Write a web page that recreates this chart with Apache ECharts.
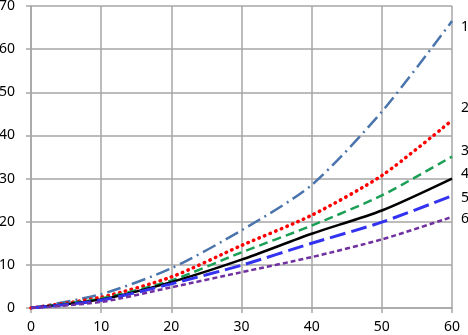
<!DOCTYPE html>
<html>
<head>
<meta charset="utf-8">
<script src="https://cdn.jsdelivr.net/npm/echarts@6/dist/echarts.min.js"></script>
<style>
  html, body { margin: 0; padding: 0; background: #fff; }
  #chart { width: 468px; height: 335px; }
</style>
</head>
<body>
<div id="chart"></div>
<script>
// x positions shared by all curves
const xValues = [0, 10, 20, 30, 40, 50, 60];

// curve values
const curve1 = [0, 3.2, 9.2, 18.0, 28.5, 45.5, 66.5];
const curve2 = [0, 2.5, 7.2, 14.5, 21.5, 30.7, 43.5];
const curve3 = [0, 2.2, 6.4, 12.9, 19.1, 26.1, 35.1];
const curve4 = [0, 2.0, 6.0, 11.2, 17.2, 22.6, 30.0];
const curve5 = [0, 1.8, 5.6, 9.9, 15.0, 19.9, 26.0];
const curve6 = [0, 1.4, 4.8, 8.3, 11.8, 15.9, 21.1];

const curveNames = ["1", "2", "3", "4", "5", "6"];

const fontFamily = "'Noto Sans', sans-serif";
const gridColor = "#a6a6a6";

function pairs(values) {
    return xValues.map((x, i) => [x, values[i]]);
}

function makeSeries(name, values, color, width, type, labelDy, cap) {
    return {
        name: name,
        type: 'line',
        data: pairs(values),
        smooth: 0.25,
        symbol: 'none',
        lineStyle: {
            color: color,
            width: width,
            type: type,
            cap: cap || 'butt'
        },
        endLabel: {
            show: true,
            formatter: name,
            color: '#000',
            fontSize: 14,
            fontFamily: fontFamily,
            distance: 9,
            offset: [0, labelDy]
        },
        z: 3
    };
}

var dom = document.getElementById('chart');
var myChart = echarts.init(dom, null, { renderer: 'canvas' });

var option = {
    animation: false,
    grid: {
        left: 31,
        right: 16,
        top: 6,
        bottom: 27,
        outerBoundsMode: 'none'
    },
    xAxis: {
        type: 'value',
        min: 0,
        max: 60,
        interval: 10,
        axisLine: { show: true, lineStyle: { color: gridColor, width: 1.5 } },
        axisTick: { show: true, length: 5, lineStyle: { color: gridColor, width: 1.5 } },
        axisLabel: { color: '#000', fontSize: 14, fontFamily: fontFamily, margin: 12 },
        splitLine: { show: true, lineStyle: { color: gridColor, width: 1.5 } }
    },
    yAxis: {
        type: 'value',
        min: 0,
        max: 70,
        interval: 10,
        axisLine: { show: true, lineStyle: { color: gridColor, width: 1.5 } },
        axisTick: { show: true, length: 5, lineStyle: { color: gridColor, width: 1.5 } },
        axisLabel: { color: '#000', fontSize: 14, fontFamily: fontFamily, margin: 16 },
        splitLine: { show: true, lineStyle: { color: gridColor, width: 1.5 } }
    },
    series: [
        makeSeries(curveNames[0], curve1, '#4a74ac', 2.5, [14, 5, 2, 5], 6),
        makeSeries(curveNames[1], curve2, '#ff0000', 3.5, [0.5, 5.5], -12, 'round'),
        makeSeries(curveNames[2], curve3, '#1a9f55', 2.5, [9, 5], -6),
        makeSeries(curveNames[3], curve4, '#000000', 2.5, 'solid', -5),
        makeSeries(curveNames[4], curve5, '#3232f0', 3, [16, 6], 2),
        makeSeries(curveNames[5], curve6, '#7030a0', 2.5, [5, 3], 2)
    ]
};

myChart.setOption(option);
window.addEventListener('resize', myChart.resize);
</script>
</body>
</html>
